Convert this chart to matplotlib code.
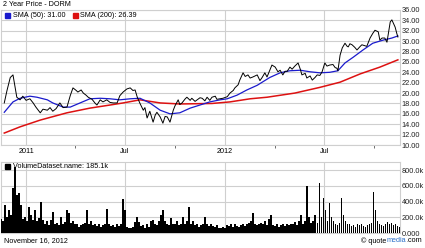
import matplotlib
matplotlib.use("Agg")
import matplotlib.pyplot as plt
import matplotlib.dates as mdates
from matplotlib.patches import Rectangle
import numpy as np
import pandas as pd

plt.rcParams['font.family'] = ['Liberation Sans', 'DejaVu Sans']

start = pd.Timestamp("2010-11-16")
end = pd.Timestamp("2012-11-16")

# daily close (days since start, price)
price_days = [6, 11, 17, 22, 26, 29, 35, 40, 46, 53, 59, 64, 72, 77, 85, 90, 95, 101, 108, 114,
              121, 127, 132, 138, 141, 147, 151, 156, 160, 167, 173, 176, 182, 187, 194, 200, 206, 213, 218, 224,
              231, 237, 242, 246, 250, 255, 261, 264, 268, 273, 279, 283, 286, 292, 297, 301, 305, 310, 316, 319,
              325, 328, 332, 338, 341, 347, 350, 356, 360, 365, 369, 374, 378, 383, 387, 393, 396, 402, 407, 415,
              420, 426, 429, 435, 438, 444, 448, 453, 457, 462, 470, 475, 479, 484, 488, 493, 497, 503, 508, 512,
              517, 521, 525, 530, 534, 539, 545, 549, 552, 558, 561, 567, 571, 576, 580, 585, 589, 594, 598, 603,
              609, 613, 616, 618, 622, 626, 631, 635, 637, 640, 644, 649, 653, 659, 662, 668, 671, 677, 682, 686,
              692, 695, 699, 704, 708, 714, 717, 723, 726, 728]
price = [18.1, 20.5, 23.0, 23.5, 21.0, 19.2, 18.7, 19.4, 18.6, 18.9, 18.1, 17.3, 16.2, 16.9, 16.7, 17.2, 16.5, 17.0, 18.1, 17.2,
         17.3, 19.5, 21.0, 20.5, 20.2, 20.6, 20.0, 19.6, 19.2, 18.8, 18.0, 17.7, 18.7, 18.3, 18.7, 18.2, 18.1, 18.1, 19.5, 20.2,
         20.8, 21.0, 20.5, 20.6, 19.2, 18.0, 16.7, 17.2, 15.2, 16.5, 14.4, 15.8, 16.3, 15.4, 14.2, 15.5, 15.4, 14.4, 16.7, 17.5,
         18.7, 17.8, 18.1, 18.9, 19.2, 18.6, 19.0, 18.4, 18.7, 19.1, 19.0, 18.5, 19.2, 18.6, 19.2, 19.4, 18.8, 18.9, 19.0, 19.3,
         20.0, 20.5, 21.0, 21.6, 22.5, 23.9, 23.2, 23.5, 22.9, 23.1, 23.5, 22.4, 23.0, 23.9, 23.1, 24.4, 25.4, 25.0, 24.1, 24.4,
         23.5, 24.2, 24.2, 25.0, 24.6, 25.2, 25.8, 24.6, 23.5, 23.8, 22.9, 23.3, 22.5, 23.0, 23.5, 23.4, 24.1, 25.8, 25.2, 25.4,
         25.5, 24.9, 24.8, 24.3, 27.3, 28.7, 29.6, 29.0, 28.9, 29.5, 29.3, 28.8, 28.3, 29.0, 29.3, 29.1, 29.0, 30.6, 31.5, 32.1,
         31.8, 30.2, 30.6, 30.6, 29.8, 33.7, 34.1, 32.7, 31.5, 30.8]

sma50_days = [6, 22, 35, 53, 66, 85, 95, 114, 127, 145, 163, 182, 200, 218, 237, 255, 273, 292, 310, 328,
              347, 365, 383, 402, 415, 433, 451, 470, 493, 512, 530, 549, 567, 585, 603, 618, 631, 646, 664, 682,
              701, 717, 728]
sma50 = [16.3, 18.3, 19.0, 19.4, 19.2, 18.7, 18.1, 17.3, 17.3, 18.1, 18.9, 19.0, 18.9, 18.7, 18.9, 19.0, 18.1, 16.7, 16.0, 16.2,
         17.1, 17.7, 18.3, 18.7, 18.9, 19.6, 20.6, 21.5, 23.0, 23.9, 24.3, 24.4, 24.1, 23.9, 24.0, 24.3, 25.8, 26.9, 28.3, 29.6,
         30.2, 30.6, 31.0]

sma200_days = [6, 35, 72, 121, 163, 200, 224, 255, 292, 328, 387, 420, 457, 488, 539, 585, 622, 659, 695, 728]
sma200 = [12.3, 13.5, 14.8, 16.2, 17.1, 17.7, 18.1, 18.7, 18.1, 17.9, 18.0, 18.3, 18.9, 19.2, 20.0, 21.1, 22.1, 23.7, 25.0, 26.4]

# volume in thousands, evenly spaced over the two years
volume = [180, 150, 355, 200, 290, 230, 570, 840, 480, 510, 355, 180, 200, 150, 330, 230, 160, 290, 150, 190,
          390, 170, 120, 150, 100, 170, 270, 110, 130, 100, 200, 120, 140, 290, 250, 130, 150, 110, 120, 80,
          100, 110, 130, 290, 120, 150, 100, 120, 90, 110, 80, 100, 120, 305, 110, 90, 100, 80, 110, 90,
          120, 430, 290, 80, 60, 70, 80, 140, 200, 140, 90, 100, 70, 110, 80, 150, 170, 120, 100, 150,
          230, 290, 150, 110, 100, 190, 120, 110, 150, 100, 120, 200, 110, 150, 330, 120, 150, 100, 110, 80,
          100, 120, 200, 110, 90, 120, 90, 80, 100, 70, 60, 80, 70, 100, 90, 120, 80, 110, 90, 80,
          100, 120, 90, 110, 130, 150, 250, 120, 100, 110, 130, 120, 150, 100, 180, 230, 100, 90, 110, 80,
          100, 120, 90, 110, 100, 120, 110, 140, 100, 150, 230, 120, 150, 600, 200, 130, 150, 230, 130, 640,
          200, 450, 290, 150, 380, 200, 150, 120, 100, 130, 450, 230, 150, 120, 110, 90, 100, 80, 110, 100,
          120, 90, 80, 100, 110, 130, 520, 290, 150, 110, 100, 90, 120, 140, 110, 130, 100, 110, 90, 80]

price_dates = start + pd.to_timedelta(price_days, unit="D")
sma50_dates = start + pd.to_timedelta(sma50_days, unit="D")
sma200_dates = start + pd.to_timedelta(sma200_days, unit="D")
vol_dates = pd.date_range(start, end, periods=len(volume))

W, H = 425, 248
def rect(l, t, r, b):
    return [l / W, 1 - b / H, (r - l) / W, (b - t) / H]

fig = plt.figure(figsize=(4.25, 2.48), dpi=100)
ax = fig.add_axes(rect(1, 10, 399.5, 145))
axv = fig.add_axes(rect(1, 162, 399.5, 233))

grid_c = "#cfcfcf"
fs = 5.2

ax.plot(sma200_dates, sma200, color="#dd1111", lw=1.1, zorder=3)
ax.plot(sma50_dates, sma50, color="#1a1acc", lw=0.9, zorder=4)
ax.plot(price_dates, price, color="black", lw=0.7, zorder=5)

ax.set_ylim(10, 36)
ax.set_yticks(np.arange(10, 37, 2))
ax.yaxis.set_major_formatter(plt.FuncFormatter(lambda v, p: "%.2f" % v))

bar_w = (end - start).days / len(volume) * 0.9
axv.bar(vol_dates, volume, width=bar_w, color="black", zorder=3)
axv.set_ylim(0, 905)
axv.set_yticks([0, 200, 400, 600, 800])
axv.set_yticklabels(["0.000", "200.0k", "400.0k", "600.0k", "800.0k"])

def month_fmt(v, p):
    d = mdates.num2date(v)
    return str(d.year) if d.month == 1 else "Jul"

for a in (ax, axv):
    a.set_xlim(start, end)
    a.xaxis.set_major_locator(mdates.MonthLocator(bymonth=[1, 7]))
    a.xaxis.set_minor_locator(mdates.MonthLocator(bymonth=[4, 10]))
    a.xaxis.set_major_formatter(plt.FuncFormatter(month_fmt))
    a.yaxis.tick_right()
    a.grid(True, which="major", color=grid_c, lw=0.8, zorder=0)
    a.tick_params(axis="y", length=0, pad=1.5, labelsize=5.3, colors="#222222")
    a.tick_params(axis="x", which="major", length=0, pad=2.5, labelsize=fs)
    a.tick_params(axis="x", which="minor", length=2.5, width=0.6, color="#555555")
    for s in a.spines.values():
        s.set_color(grid_c)
        s.set_linewidth(0.8)

axv.tick_params(axis="x", which="both", labelbottom=False, length=0)

# titles and legends
fig.text(3 / W, 1 - 5 / H, "2 Year Price - DORM", fontsize=fs, va="center", ha="left")
fig.patches.append(Rectangle((5 / W, 1 - 18 / H), 5 / W, 5 / H, transform=fig.transFigure,
                             color="#1a1acc", figure=fig))
fig.text(13 / W, 1 - 15.5 / H, "SMA (50): 31.00", fontsize=fs, va="center", ha="left")
fig.patches.append(Rectangle((73 / W, 1 - 18 / H), 5 / W, 5 / H, transform=fig.transFigure,
                             color="#dd1111", figure=fig))
fig.text(80 / W, 1 - 15.5 / H, "SMA (200): 26.39", fontsize=fs, va="center", ha="left")

fig.patches.append(Rectangle((5 / W, 1 - 169 / H), 5 / W, 5 / H, transform=fig.transFigure,
                             color="black", figure=fig))
fig.text(13 / W, 1 - 166.5 / H, "VolumeDataset.name: 185.1k", fontsize=fs, va="center", ha="left")

fig.text(4 / W, 1 - 241 / H, "November 16, 2012", fontsize=fs, va="center", ha="left")

# credit line, pieces placed right to left
r = fig.canvas.get_renderer()
x = 422 / W
for piece, col in ((".com", "black"), ("media", "#2a6fc9"), ("© quote", "black")):
    t = fig.text(x, 1 - 241 / H, piece, fontsize=fs, va="center", ha="right", color=col)
    bb = t.get_window_extent(r)
    x = bb.x0 / fig.bbox.width

fig.savefig("out.png", dpi=100)
